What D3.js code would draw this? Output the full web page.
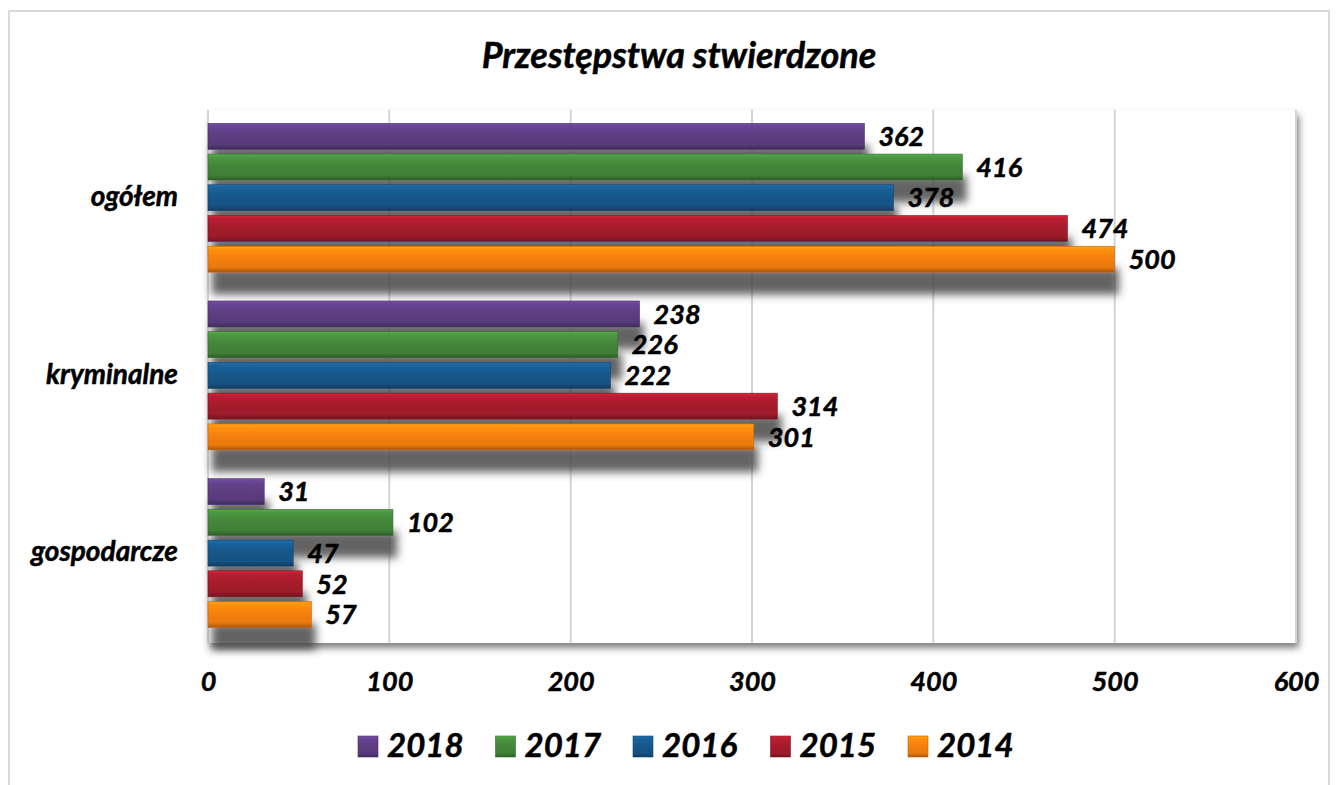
<!DOCTYPE html>
<html>
<head>
<meta charset="utf-8">
<script src="https://cdn.jsdelivr.net/npm/d3@7"></script>
<style>
	body { margin: 0; background: #fff; }
	text { font-family: Lato, "Open Sans", sans-serif; font-weight: bold; font-style: italic; fill: #000; stroke: #000; stroke-width: 0.5px; }
</style>
</head>
<body>
<div id="chart"></div>
<script>

var categories = ["ogółem", "kryminalne", "gospodarcze"];
var years = ["2018", "2017", "2016", "2015", "2014"];
var values2018 = [362, 238, 31];
var values2017 = [416, 226, 102];
var values2016 = [378, 222, 47];
var values2015 = [474, 314, 52];
var values2014 = [500, 301, 57];
var xTicks = [0, 100, 200, 300, 400, 500, 600];

var seriesValues = [values2018, values2017, values2016, values2015, values2014];
var colors = ["#5d3d82", "#43863a", "#17578a", "#a51b2c", "#f5800f"];

var width = 1338, height = 785;
var margin = { left: 208, right: 42, top: 110, bottom: 142 };

var svg = d3.select("#chart")
	.append("svg")
	.attr("width", width)
	.attr("height", height);

var defs = svg.append("defs");

// shadow under each bar
var barShadow = defs.append("filter")
	.attr("id", "barShadow")
	.attr("x", "-10%").attr("y", "-50%")
	.attr("width", "130%").attr("height", "300%");
barShadow.append("feDropShadow")
	.attr("dx", 4).attr("dy", 22)
	.attr("stdDeviation", 4)
	.attr("flood-color", "#4a4a4a")
	.attr("flood-opacity", 0.85);

// shadow under the plot area
var plotShadow = defs.append("filter")
	.attr("id", "plotShadow")
	.attr("x", "-5%").attr("y", "-5%")
	.attr("width", "110%").attr("height", "115%");
plotShadow.append("feDropShadow")
	.attr("dx", 3).attr("dy", 5)
	.attr("stdDeviation", 3.5)
	.attr("flood-color", "#000")
	.attr("flood-opacity", 0.5);

// bevel gradients for each series
colors.forEach(function(c, i) {
	var base = d3.color(c);
	var g = defs.append("linearGradient")
		.attr("id", "bevel" + i)
		.attr("x1", 0).attr("y1", 0).attr("x2", 0).attr("y2", 1);
	g.append("stop").attr("offset", "0%").attr("stop-color", base.brighter(0.7));
	g.append("stop").attr("offset", "12%").attr("stop-color", base.brighter(0.35));
	g.append("stop").attr("offset", "45%").attr("stop-color", base);
	g.append("stop").attr("offset", "82%").attr("stop-color", base.darker(0.15));
	g.append("stop").attr("offset", "100%").attr("stop-color", base.darker(1.1));
});

// outer frame
svg.append("rect")
	.attr("x", 9).attr("y", 11)
	.attr("width", 1320).attr("height", 820)
	.attr("fill", "none")
	.attr("stroke", "#d9d9d9")
	.attr("stroke-width", 2);

// scales
var x = d3.scaleLinear()
	.domain([0, 600])
	.range([margin.left, width - margin.right]);

var y0 = d3.scaleBand()
	.domain(categories)
	.range([margin.top, height - margin.bottom]);

var y1 = d3.scaleBand()
	.domain(years)
	.range([y0.bandwidth() * 0.075, y0.bandwidth() * 0.913])
	.paddingInner(0.155);

// plot area
svg.append("rect")
	.attr("x", x(0)).attr("y", margin.top)
	.attr("width", x(600) - x(0))
	.attr("height", height - margin.bottom - margin.top)
	.attr("fill", "#fff")
	.attr("filter", "url(#plotShadow)");

svg.append("g")
	.selectAll("line")
	.data(xTicks)
	.enter()
		.append("line")
		.attr("x1", function(d) { return x(d); })
		.attr("x2", function(d) { return x(d); })
		.attr("y1", margin.top)
		.attr("y2", height - margin.bottom)
		.attr("stroke", "#d4d4d4")
		.attr("stroke-width", 2);

// title
svg.append("text")
	.attr("x", 679)
	.attr("y", 68)
	.attr("text-anchor", "middle")
	.style("font-size", "36px")
	.text("Przestępstwa stwierdzone");

// x axis tick labels
var xAxis = d3.axisBottom(x)
	.tickValues(xTicks)
	.tickSize(0)
	.tickPadding(0);

var xAxisG = svg.append("g")
	.attr("transform", "translate(0," + (height - margin.bottom) + ")")
	.call(xAxis);
xAxisG.select(".domain").remove();
xAxisG.selectAll("text")
	.attr("y", 48)
	.attr("dy", null)
	.style("font-size", "27px")
	.style("font-family", null);

// category labels
var yAxis = d3.axisLeft(y0)
	.tickSize(0)
	.tickPadding(0);

var yAxisG = svg.append("g")
	.attr("transform", "translate(178,0)")
	.call(yAxis);
yAxisG.select(".domain").remove();
yAxisG.selectAll("text")
	.attr("dy", "0.25em")
	.style("font-size", "28px")
	.style("font-family", null);

// bars
var groups = svg.selectAll("g.category")
	.data(categories)
	.enter()
		.append("g")
		.attr("class", "category")
		.attr("transform", function(d) { return "translate(0," + y0(d) + ")"; });

years.forEach(function(year, s) {
	groups.append("rect")
		.attr("x", x(0))
		.attr("y", y1(year))
		.attr("width", function(d, i) { return x(seriesValues[s][i]) - x(0); })
		.attr("height", y1.bandwidth())
		.attr("fill", "url(#bevel" + s + ")")
		.attr("stroke", d3.color(colors[s]).darker(0.6))
		.attr("stroke-width", 0.6)
		.attr("filter", "url(#barShadow)");
});

// value labels on top of everything
years.forEach(function(year, s) {
	groups.append("text")
		.attr("x", function(d, i) { return x(seriesValues[s][i]) + 14; })
		.attr("y", y1(year) + y1.bandwidth() / 2)
		.attr("dy", "0.36em")
		.style("font-size", "27px")
		.text(function(d, i) { return seriesValues[s][i]; });
});

// legend
var legend = svg.append("g")
	.attr("transform", "translate(358,736)");

var items = legend.selectAll("g")
	.data(years)
	.enter()
		.append("g")
		.attr("transform", function(d, i) { return "translate(" + (i * 137.5) + ",0)"; });

items.append("rect")
	.attr("width", 20)
	.attr("height", 21)
	.attr("fill", function(d, i) { return "url(#bevel" + i + ")"; })
	.attr("stroke", function(d, i) { return d3.color(colors[i]).darker(0.6); })
	.attr("stroke-width", 0.6);

items.append("text")
	.attr("x", 29)
	.attr("y", 21)
	.style("font-size", "33px")
	.text(function(d) { return d; });

</script>
</body>
</html>
